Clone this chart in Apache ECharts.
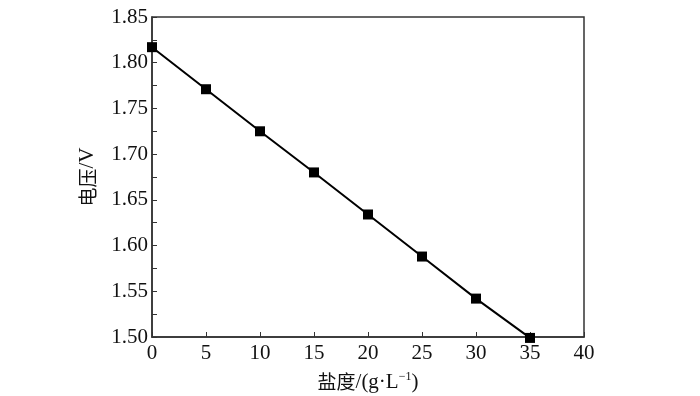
<!DOCTYPE html>
<html>
<head>
<meta charset="utf-8">
<script src="https://cdn.jsdelivr.net/npm/echarts@6/dist/echarts.min.js"></script>
<style>
  html, body { margin: 0; padding: 0; background: #fff; }
  #salinity-voltage { width: 700px; height: 396px; }
</style>
</head>
<body>
<div id="salinity-voltage"></div>
<script>
// 盐度 (g/L) 与 电压 (V)
const salinity = [0, 5, 10, 15, 20, 25, 30, 35]
const voltage = [1.817, 1.771, 1.725, 1.680, 1.634, 1.588, 1.542, 1.499]

const serif = '"Liberation Serif", "Times New Roman", serif'
const cjk = '"Noto Sans CJK SC", sans-serif'

const chartObj = echarts.init(document.getElementById('salinity-voltage'))
const chartOption = {
  animation: false,
  grid: {
    left: 152,
    right: 116,
    top: 17,
    bottom: 59,
    outerBoundsMode: 'none',
    containLabel: false,
    show: true,
    borderColor: '#333',
    borderWidth: 1.5
  },
  xAxis: {
    type: 'value',
    min: 0,
    max: 40,
    interval: 5,
    name: '{cn|盐度}{en|/(g·L}{sup|−1}{en|)}',
    nameLocation: 'middle',
    nameGap: 34,
    nameTextStyle: {
      color: '#111',
      rich: {
        cn: { fontSize: 19, fontFamily: cjk, color: '#111' },
        en: { fontSize: 21, fontFamily: serif, color: '#111' },
        sup: { fontSize: 12, fontFamily: serif, color: '#111', verticalAlign: 'top', padding: [0, 0, 10, 0] }
      }
    },
    axisLine: { lineStyle: { color: '#333', width: 1.5 } },
    axisTick: { inside: true, length: 5, lineStyle: { color: '#333' } },
    axisLabel: { color: '#111', fontSize: 21, fontFamily: serif, margin: 6 },
    splitLine: { show: false }
  },
  yAxis: {
    type: 'value',
    min: 1.5,
    max: 1.85,
    interval: 0.05,
    name: '{cn|电压}{en|/V}',
    nameLocation: 'middle',
    nameRotate: 90,
    nameGap: 54,
    nameTextStyle: {
      color: '#111',
      rich: {
        cn: { fontSize: 19, fontFamily: cjk, color: '#111' },
        en: { fontSize: 21, fontFamily: serif, color: '#111' }
      }
    },
    axisLine: { lineStyle: { color: '#333', width: 1.5 } },
    axisTick: { inside: true, length: 5, lineStyle: { color: '#333' } },
    minorTick: { show: true, splitNumber: 2, length: 5, lineStyle: { color: '#333' } },
    axisLabel: {
      color: '#111',
      fontSize: 21,
      fontFamily: serif,
      margin: 4,
      formatter: v => v.toFixed(2)
    },
    splitLine: { show: false }
  },
  series: [
    {
      type: 'line',
      data: salinity.map((s, i) => [s, voltage[i]]),
      symbol: 'rect',
      symbolSize: 10,
      itemStyle: { color: '#000' },
      lineStyle: { color: '#000', width: 2 },
      clip: false
    }
  ]
}
chartObj.setOption(chartOption, true)
</script>
</body>
</html>
